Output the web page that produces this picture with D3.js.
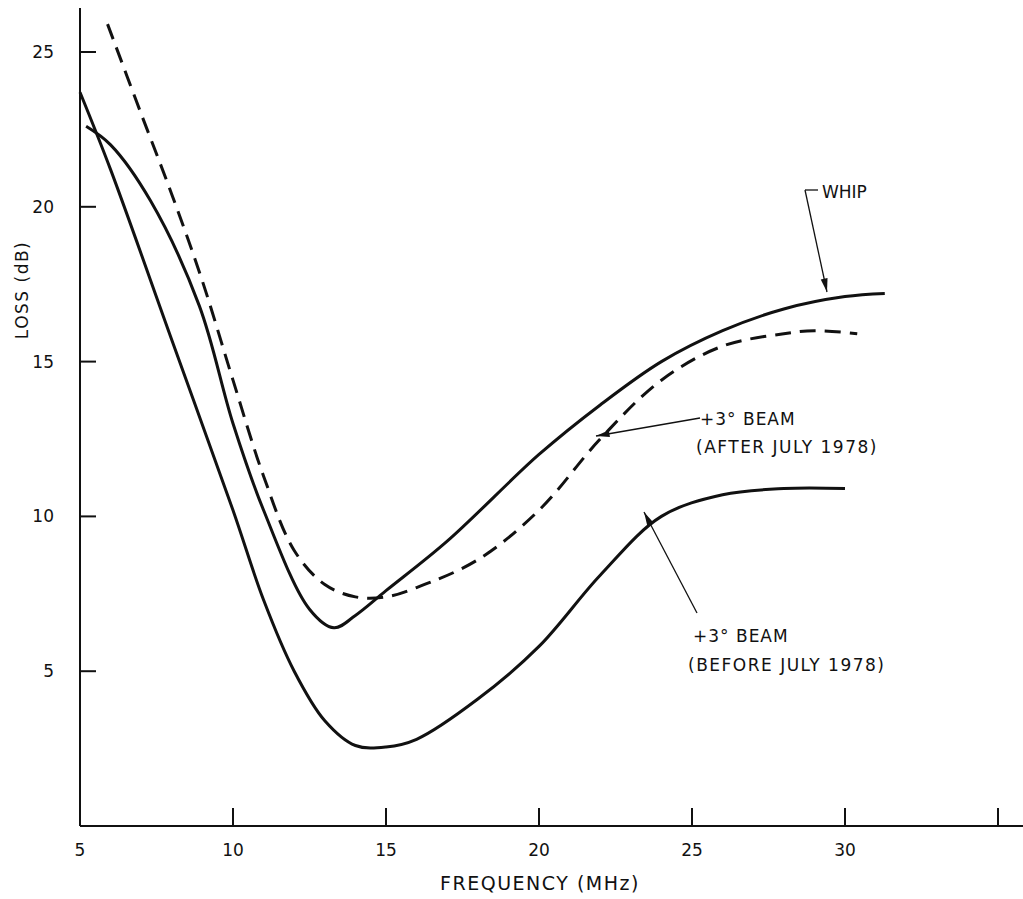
<!DOCTYPE html>
<html><head><meta charset="utf-8">
<script src="https://cdn.jsdelivr.net/npm/d3@7"></script>
<style>body{margin:0;background:#fff}text{font-family:"DejaVu Sans",sans-serif;fill:#111}</style>
</head><body><svg id="c" width="1023" height="899"></svg>
<script>
const xTicks=[5,10,15,20,25,30,35];
const xTickLabels=["5","10","15","20","25","30",""];
const yTicks=[5,10,15,20,25];
const whipF=[5.2,6,7.3,8.9,10,11,12.5,13.3,14,15,17,20,22,24,26,28,30,31.3];
const whipL=[22.6,22.0,20.2,16.8,13.0,10.2,7.0,6.4,6.8,7.6,9.2,12.0,13.6,15.0,16.0,16.7,17.1,17.2];
const afterF=[5.9,7,8,9,10,11,12,13,14,15,16,18,20,22,24,26,28,29,30.4];
const afterL=[25.9,23.0,20.4,17.6,14.4,11.3,8.9,7.8,7.4,7.4,7.7,8.6,10.2,12.5,14.4,15.5,15.9,16.0,15.9];
const beforeF=[5,6,8,10,11,12,13,14,15,16,18,20,22,24,26,28,30];
const beforeL=[23.7,21.2,15.7,10.2,7.3,5.0,3.4,2.6,2.55,2.8,4.1,5.8,8.1,10.0,10.7,10.9,10.9];

const svg=d3.select("#c");
const x=d3.scaleLinear().domain([5,35]).range([80,998]);
const y=d3.scaleLinear().domain([0,25]).range([826,52]);
const g=svg.append("g");
g.append("line").attr("x1",80).attr("x2",1023).attr("y1",826).attr("y2",826).attr("stroke","#111").attr("stroke-width",2);
g.append("line").attr("x1",80).attr("x2",80).attr("y1",8).attr("y2",826).attr("stroke","#111").attr("stroke-width",2);
xTicks.forEach((t,i)=>{g.append("line").attr("x1",x(t)).attr("x2",x(t)).attr("y1",826).attr("y2",808).attr("stroke","#111").attr("stroke-width",2);
 g.append("text").attr("x",x(t)).attr("y",856).attr("text-anchor","middle").attr("font-size",17).text(xTickLabels[i]);});
yTicks.forEach(t=>{g.append("line").attr("x1",80).attr("x2",96).attr("y1",y(t)).attr("y2",y(t)).attr("stroke","#111").attr("stroke-width",2);
 g.append("text").attr("x",54).attr("y",y(t)+6).attr("text-anchor","end").attr("font-size",17).text(t);});
g.append("text").attr("x",540).attr("y",890).attr("text-anchor","middle").attr("font-size",19).attr("letter-spacing",1.5).text("FREQUENCY  (MHz)");
g.append("text").attr("transform","translate(28,290) rotate(-90)").attr("text-anchor","middle").attr("font-size",17).attr("letter-spacing",1.5).text("LOSS  (dB)");
const line=d3.line().x(d=>x(d[0])).y(d=>y(d[1])).curve(d3.curveCatmullRom);
const draw=(F,L,dash)=>g.append("path").attr("d",line(F.map((f,i)=>[f,L[i]]))).attr("fill","none").attr("stroke","#111").attr("stroke-width",3).attr("stroke-dasharray",dash||null);
draw(whipF,whipL);draw(afterF,afterL,"16,9");draw(beforeF,beforeL);
function arrow(x1,y1,x2,y2){g.append("line").attr("x1",x1).attr("y1",y1).attr("x2",x2).attr("y2",y2).attr("stroke","#111").attr("stroke-width",1.3);
 const a=Math.atan2(y2-y1,x2-x1),l=14,w=0.25;
 g.append("path").attr("d",`M${x2},${y2}L${x2-l*Math.cos(a-w)},${y2-l*Math.sin(a-w)}L${x2-l*Math.cos(a+w)},${y2-l*Math.sin(a+w)}Z`).attr("fill","#111");}
g.append("polyline").attr("points","818,190 805,190").attr("fill","none").attr("stroke","#111").attr("stroke-width",1.3);
arrow(805,190,827,292);
g.append("text").attr("x",822).attr("y",198).attr("font-size",17).text("WHIP");
arrow(700,418,596,436);
g.append("text").attr("x",700).attr("y",425).attr("font-size",17).attr("letter-spacing",1).text("+3° BEAM");
g.append("text").attr("x",696).attr("y",453).attr("font-size",17).attr("letter-spacing",1.5).text("(AFTER  JULY 1978)");
arrow(697,613,644,512);
g.append("text").attr("x",693).attr("y",642).attr("font-size",17).attr("letter-spacing",1).text("+3° BEAM");
g.append("text").attr("x",688).attr("y",671).attr("font-size",17).attr("letter-spacing",1.5).text("(BEFORE  JULY 1978)");
</script></body></html>
